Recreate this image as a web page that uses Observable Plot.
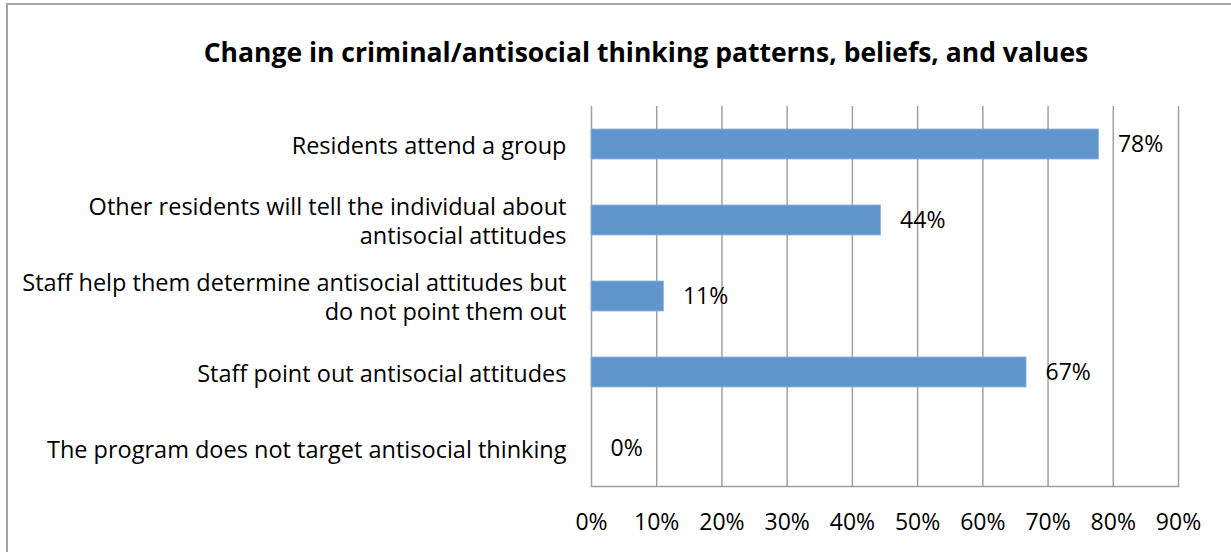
<!DOCTYPE html>
<html>
<head>
<meta charset="utf-8">
<script src="https://cdn.jsdelivr.net/npm/d3@7"></script>
<script src="https://cdn.jsdelivr.net/npm/@observablehq/plot@0.6"></script>
<style>
  html, body { margin: 0; padding: 0; background: #fff; width: 1231px; height: 552px; overflow: hidden; }
  #wrap { position: relative; width: 1231px; height: 552px; font-family: "Open Sans", sans-serif; }
  #border { position: absolute; left: 6px; top: 3px; width: 1260px; height: 580px; border: 2px solid #a3a3a3; box-sizing: border-box; }
  #title { position: absolute; left: 0; width: 1292px; top: 34px; line-height: 36px; text-align: center; font-weight: bold; font-size: 26.5px; color: #000; }
  #chart { position: absolute; left: 0; top: 0; }
</style>
</head>
<body>
<div id="wrap">
  <div id="border"></div>
  <div id="chart"></div>
  <div id="title">Change in criminal/antisocial thinking patterns, beliefs, and values</div>
</div>
<script>
const categories = [
  "Residents attend a group",
  "Other residents will tell the individual about\nantisocial attitudes",
  "Staff help them determine antisocial attitudes but\ndo not point them out",
  "Staff point out antisocial attitudes",
  "The program does not target antisocial thinking"
];
const values = [0.778, 0.444, 0.111, 0.667, 0];
const valueLabels = ["78%", "44%", "11%", "67%", "0%"];
const xTicks = [0, 0.1, 0.2, 0.3, 0.4, 0.5, 0.6, 0.7, 0.8, 0.9];

const data = categories.map((c, i) => ({category: c, value: values[i], label: valueLabels[i]}));

const plot = Plot.plot({
  width: 1231,
  height: 552,
  marginTop: 106,
  marginBottom: 66,
  marginLeft: 591,
  marginRight: 53,
  style: {fontFamily: "'Open Sans', sans-serif", background: "transparent", color: "#000"},
  x: {domain: [0, 0.9]},
  y: {domain: categories, padding: 0.6, paddingOuter: 0.3},
  marks: [
    Plot.ruleX(xTicks, {stroke: "#a0a0a0", strokeWidth: 1.5}),
    Plot.frame({anchor: "bottom", stroke: "#a0a0a0", strokeWidth: 1.5}),
    Plot.barX(data, {x: "value", y: "category", fill: "#6096CB", stroke: "#8DB3DB", strokeWidth: 0.8}),
    Plot.text(data, {x: "value", y: "category", text: "label", textAnchor: "start", dx: 19, fontSize: 23, fill: "#000"}),
    Plot.axisX(xTicks, {tickFormat: d => Math.round(d * 100) + "%", tickSize: 0, tickPadding: 27, fontSize: 23, label: null}),
    Plot.axisY({tickSize: 0, tickPadding: 25, fontSize: 23.5, lineHeight: 1.23, label: null})
  ]
});
document.getElementById("chart").appendChild(plot);
</script>
</body>
</html>
